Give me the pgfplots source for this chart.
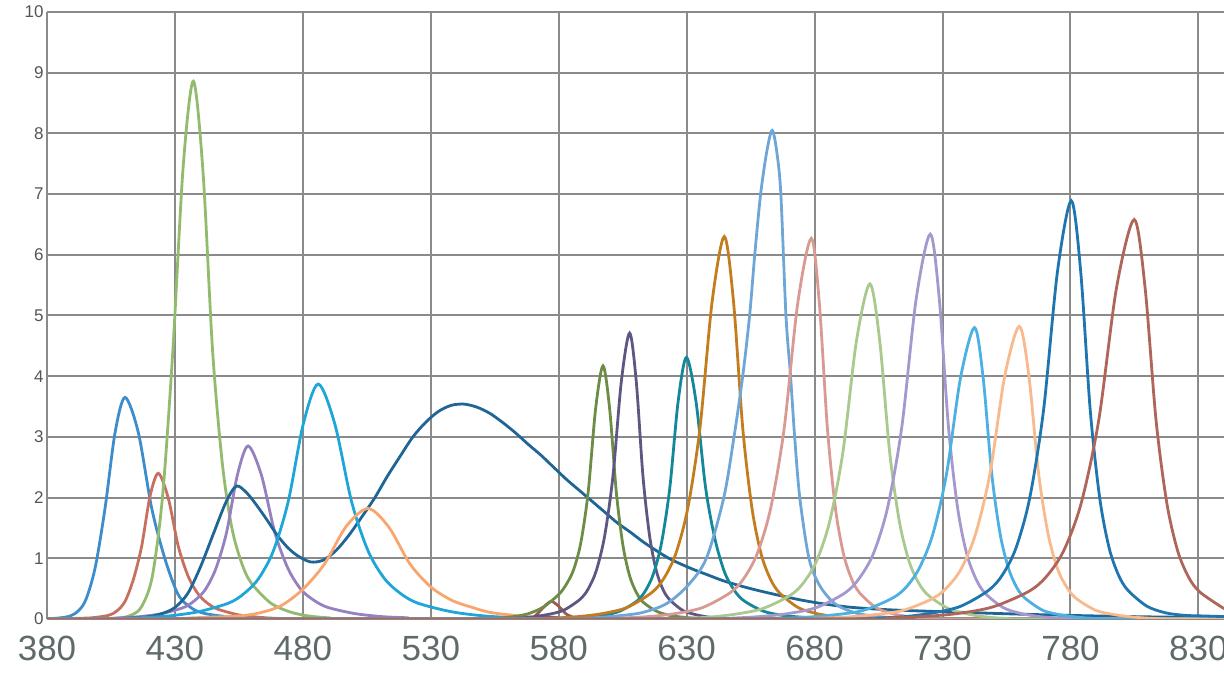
\documentclass[border=0pt]{standalone}
\usepackage{fontspec}
\setmainfont{Liberation Sans}
\usepackage{pgfplots}
\pgfplotsset{compat=1.18}

\definecolor{gridc}{HTML}{8A8A8A}
\definecolor{xlab}{HTML}{5F6A6A}
\definecolor{ylab}{HTML}{555555}
\definecolor{cA}{HTML}{3D8CCC}
\definecolor{cB}{HTML}{C8705F}
\definecolor{cC}{HTML}{93BB6E}
\definecolor{cD}{HTML}{9580C0}
\definecolor{cE}{HTML}{1F6696}
\definecolor{cF}{HTML}{1EA6D8}
\definecolor{cG}{HTML}{F8A66E}
\definecolor{cH}{HTML}{A0584C}
\definecolor{cI}{HTML}{6D8C46}
\definecolor{cJ}{HTML}{5E5683}
\definecolor{cK}{HTML}{15879A}
\definecolor{cL}{HTML}{C47D1E}
\definecolor{cM}{HTML}{6FA6D8}
\definecolor{cN}{HTML}{D99A93}
\definecolor{cO}{HTML}{A9C98F}
\definecolor{cP}{HTML}{A598CD}
\definecolor{cQ}{HTML}{4DB0E2}
\definecolor{cR}{HTML}{F8BA8C}
\definecolor{cS}{HTML}{1E75B0}
\definecolor{cT}{HTML}{B0655A}

\begin{document}
\begin{tikzpicture}
\begin{axis}[
    scale only axis,
    width=588.5pt, height=303.5pt,
    xmin=380, xmax=840, ymin=0, ymax=10,
    xtick={380,430,...,830},
    ytick={0,1,...,10},
    major tick length=0pt,
    axis line style={draw=none},
    grid=major,
    major grid style={draw=gridc, line width=1pt},
    /pgf/number format/assume math mode=true,
    /pgf/number format/1000 sep={},
    xticklabel style={font=\fontsize{17.5}{20}\selectfont, text=xlab, yshift=-5pt},
    yticklabel style={font=\fontsize{8.5}{10}\selectfont, text=ylab, inner sep=0pt, xshift=-1.5pt},
    every axis plot/.append style={smooth, tension=0.5, line width=1.4pt, no markers},
]
% 410 nm
\addplot[cA] coordinates {(380,0) (387.1,0.03) (391,0.09) (394.9,0.29) (398.8,0.84) (402.7,1.83) (406.6,3.07) (410.5,3.65) (415.7,3.07) (420.9,1.83) (426.1,0.99) (431.3,0.40) (436.5,0.18) (441.7,0.09) (452.1,0.03) (462.5,0.005) (475,0) (840,0)};
% 423 nm
\addplot[cB] coordinates {(380,0) (385,0) (391,0.01) (397.5,0.02) (404,0.06) (407.25,0.13) (410.5,0.29) (413.75,0.65) (417,1.2) (420.25,2.02) (423.5,2.40) (427.4,1.99) (431.3,1.2) (435.2,0.70) (439.1,0.41) (443,0.25) (446.9,0.16) (454.7,0.07) (462.5,0.03) (470.3,0.01) (485,0) (840,0)};
% 437 nm
\addplot[cC] coordinates {(380,0) (405.2,0) (413.2,0.07) (417.2,0.22) (421.2,0.71) (425.2,2.04) (429.2,4.43) (433.2,7.44) (437.2,8.86) (441,7.35) (444.7,4.43) (448.5,2.57) (452.2,1.51) (456,0.93) (459.7,0.60) (467.2,0.27) (474.7,0.12) (482.2,0.05) (490,0.02) (500,0) (840,0)};
% 458 nm
\addplot[cD] coordinates {(380,0) (400,0) (408.2,0.02) (416.6,0.04) (425,0.09) (433.4,0.19) (437.6,0.30) (441.8,0.48) (446,0.83) (450.2,1.43) (454.4,2.37) (458.6,2.85) (463.8,2.37) (469,1.43) (474.2,0.83) (479.4,0.48) (484.6,0.30) (489.8,0.19) (500.2,0.09) (510.6,0.04) (521,0.02) (535,0) (840,0)};
% white LED
\addplot[cE] coordinates {(380,0) (400,0.003) (410,0.01) (420,0.04) (425,0.09) (430,0.19) (435,0.42) (440,0.86) (445,1.40) (450,1.93) (454,2.19) (458,2.08) (462,1.87) (466,1.63) (470,1.38) (474,1.18) (478,1.04) (483,0.94) (488,0.97) (493,1.13) (498,1.38) (503,1.68) (508,1.99) (513,2.35) (518,2.68) (523,3.0) (528,3.24) (533,3.42) (538,3.52) (543,3.54) (548,3.49) (553,3.39) (558,3.24) (563,3.07) (568,2.88) (573,2.70) (578,2.50) (583,2.30) (588,2.12) (593,1.94) (598,1.76) (603,1.58) (608,1.43) (613,1.27) (618,1.13) (623,1.00) (628,0.90) (633,0.81) (638,0.73) (645,0.62) (655,0.50) (665,0.40) (675,0.31) (685,0.24) (695,0.19) (710,0.15) (730,0.12) (760,0.08) (790,0.05) (820,0.03) (840,0.03)};
% 486 nm
\addplot[cF] coordinates {(380,0) (404,0) (415.8,0.02) (427.5,0.05) (439.2,0.12) (450.9,0.26) (456.75,0.41) (462.6,0.66) (468.45,1.12) (474.3,1.94) (480.15,3.21) (486,3.87) (492.5,3.21) (499,1.94) (505.5,1.12) (512,0.66) (518.5,0.41) (525,0.26) (538,0.12) (551,0.05) (564,0.02) (578,0) (840,0)};
% 506 nm
\addplot[cG] coordinates {(380,0) (425,0) (437.5,0.02) (454.5,0.05) (463,0.10) (471.5,0.22) (480,0.49) (488.5,0.91) (497,1.53) (505.5,1.82) (513.65,1.51) (521.8,0.91) (529.95,0.53) (538.1,0.31) (546.25,0.19) (554.4,0.10) (570.7,0.03) (587,0.01) (600,0) (840,0)};
% small bump
\addplot[cH] coordinates {(380,0) (568,0) (571,0.06) (574,0.19) (577,0.29) (580,0.21) (583,0.08) (587,0.01) (590,0) (840,0)};
% 597 nm
\addplot[cI] coordinates {(380,0) (548,0) (555,0.01) (562.5,0.04) (568.3,0.09) (574.1,0.20) (579.9,0.40) (582.8,0.56) (585.7,0.80) (588.6,1.25) (591.5,2.09) (594.4,3.46) (597.3,4.17) (599.9,3.46) (602.5,2.09) (605.1,1.21) (607.7,0.71) (610.3,0.44) (612.9,0.28) (618.1,0.13) (623.3,0.06) (628.5,0.03) (635,0.01) (642,0) (840,0)};
% 608 nm
\addplot[cJ] coordinates {(380,0) (555,0) (562,0.01) (568.7,0.03) (575.2,0.07) (581.7,0.14) (588.2,0.32) (591.45,0.49) (594.7,0.80) (597.95,1.37) (601.2,2.36) (604.45,3.91) (607.7,4.71) (610.3,3.91) (612.9,2.36) (615.5,1.37) (618.1,0.80) (620.7,0.49) (623.3,0.32) (628.5,0.14) (633.7,0.07) (638.9,0.03) (645,0.01) (650,0) (840,0)};
% 630 nm
\addplot[cK] coordinates {(380,0) (577,0) (584,0.01) (590.9,0.03) (597.4,0.06) (603.9,0.13) (610.4,0.29) (613.65,0.45) (616.9,0.73) (620.15,1.25) (623.4,2.16) (626.65,3.58) (629.9,4.31) (633.65,3.58) (637.4,2.16) (641.15,1.30) (644.9,0.76) (648.65,0.47) (652.4,0.30) (659.9,0.13) (667.4,0.06) (674.9,0.03) (682,0.01) (690,0) (840,0)};
% 645 nm
\addplot[cL] coordinates {(380,0) (568,0) (578,0.015) (587.7,0.04) (597.2,0.09) (606.7,0.19) (616.2,0.43) (620.95,0.66) (625.7,1.07) (630.45,1.83) (635.2,3.15) (639.95,5.23) (644.7,6.30) (648.3,5.23) (651.9,3.15) (655.5,1.83) (659.1,1.07) (662.7,0.66) (666.3,0.43) (673.5,0.19) (680.7,0.09) (687.9,0.04) (695,0.015) (702,0) (840,0)};
% 663 nm
\addplot[cM] coordinates {(380,0) (580,0) (590,0.01) (600,0.04) (612,0.10) (622,0.25) (630.4,0.55) (637.7,1.0) (644.5,2.0) (648.5,3.0) (651.9,4.0) (654.6,5.0) (656.6,6.0) (658.9,7.0) (661.3,7.7) (663.4,8.05) (665.2,7.7) (666.8,7.0) (668.8,5.0) (670.6,4.0) (672.2,3.0) (674.2,2.0) (677.8,1.0) (682,0.55) (688,0.25) (696,0.10) (705,0.04) (715,0.01) (725,0) (840,0)};
% 678 nm
\addplot[cN] coordinates {(380,0) (594,0) (604,0.015) (615.1,0.04) (625.7,0.09) (636.3,0.19) (646.9,0.43) (652.2,0.66) (657.5,1.07) (662.8,1.82) (668.1,3.14) (673.4,5.20) (678.7,6.27) (681.85,5.20) (685,3.14) (688.15,1.82) (691.3,1.07) (694.45,0.66) (697.6,0.43) (703.9,0.19) (710.2,0.09) (716.5,0.04) (723,0.015) (730,0) (840,0)};
% 702 nm
\addplot[cO] coordinates {(380,0) (617,0) (628,0.01) (638.6,0.03) (649.1,0.08) (659.6,0.17) (670.1,0.38) (675.35,0.58) (680.6,0.94) (685.85,1.60) (691.1,2.76) (696.35,4.58) (701.6,5.52) (705.45,4.58) (709.3,2.76) (713.15,1.60) (717,0.94) (720.85,0.58) (724.7,0.38) (732.4,0.17) (740.1,0.08) (747.8,0.03) (755,0.01) (763,0) (840,0)};
% 725 nm
\addplot[cP] coordinates {(380,0) (636,0) (648,0.015) (658.6,0.04) (669.7,0.09) (680.8,0.19) (691.9,0.43) (697.45,0.67) (703,1.08) (708.55,1.84) (714.1,3.17) (719.65,5.26) (725.2,6.34) (728.75,5.26) (732.3,3.17) (735.85,1.84) (739.4,1.08) (742.95,0.67) (746.5,0.43) (753.6,0.19) (760.7,0.09) (767.8,0.04) (775,0.015) (782,0) (840,0)};
% 742 nm
\addplot[cQ] coordinates {(380,0) (655,0) (666,0.01) (677.1,0.03) (688,0.07) (698.9,0.14) (709.8,0.33) (715.25,0.50) (720.7,0.82) (726.15,1.39) (731.6,2.40) (737.05,3.98) (742.5,4.80) (745.85,3.98) (749.2,2.40) (752.55,1.39) (755.9,0.82) (759.25,0.50) (762.6,0.33) (769.3,0.14) (776,0.07) (782.7,0.03) (789,0.01) (796,0) (840,0)};
% 760 nm
\addplot[cR] coordinates {(380,0) (669,0) (680,0.01) (691.6,0.03) (703,0.07) (714.4,0.14) (725.8,0.33) (731.5,0.51) (737.2,0.82) (742.9,1.40) (748.6,2.41) (754.3,4.00) (760,4.82) (763.75,4.00) (767.5,2.41) (771.25,1.40) (775,0.82) (778.75,0.51) (782.5,0.33) (790,0.14) (797.5,0.07) (805,0.03) (812,0.01) (820,0) (840,0)};
% 780 nm
\addplot[cS] coordinates {(380,0) (694,0) (705,0.015) (715.5,0.04) (726.3,0.10) (737.1,0.21) (747.9,0.47) (753.3,0.72) (758.7,1.17) (764.1,2.00) (769.5,3.45) (774.9,5.72) (780.3,6.89) (784,5.72) (787.7,3.45) (791.4,2.00) (795.1,1.17) (798.8,0.72) (802.5,0.47) (809.9,0.21) (817.3,0.10) (824.7,0.06) (832,0.05) (840,0.04)};
% 805 nm
\addplot[cT] coordinates {(380,0) (694,0) (708,0.015) (722.1,0.04) (735.9,0.09) (749.7,0.20) (763.5,0.45) (770.4,0.69) (777.3,1.12) (784.2,1.91) (791.1,3.29) (798,5.46) (804.9,6.58) (809.15,5.46) (813.4,3.29) (817.65,1.91) (821.9,1.12) (826.15,0.69) (830.4,0.45) (838.9,0.20) (840,0.18)};
\end{axis}
\pgfresetboundingbox
\useasboundingbox ([xshift=-23.5pt,yshift=-39.5pt]current axis.south west) rectangle ([yshift=6pt]current axis.north east);
\end{tikzpicture}
\end{document}
